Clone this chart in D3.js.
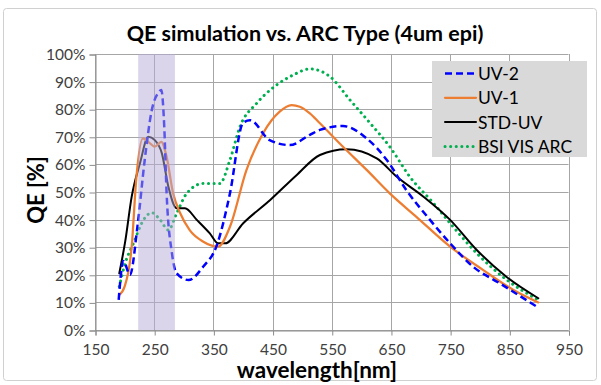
<!DOCTYPE html>
<html><head><meta charset="utf-8">
<script src="https://cdn.jsdelivr.net/npm/d3@7"></script>
<style>body{margin:0;background:#fff;}svg{display:block;}</style>
</head><body>
<svg id="chart" width="601" height="385"></svg>
<script>
const title = "QE simulation vs. ARC Type (4um epi)";
const xLabel = "wavelength[nm]";
const yLabel = "QE [%]";
const xTicks = [150, 250, 350, 450, 550, 650, 750, 850, 950];
const yTicks = [0, 10, 20, 30, 40, 50, 60, 70, 80, 90, 100];
const band = [223, 285];

const uv2W = [190, 198, 209, 222, 234, 246, 257, 262, 267, 271, 280, 288, 308, 333, 355, 378, 400, 412, 445, 479, 513, 530, 569, 609, 643, 676, 716, 750, 789, 834, 896];
const uv2V = [10.9, 25, 20, 38, 61.6, 79.7, 86, 87, 73.7, 49.5, 27.8, 20.5, 18.1, 23, 30.2, 49.5, 75, 76, 68.8, 67, 70.7, 72.5, 73.9, 69.4, 61.6, 50.7, 39.9, 31.4, 22.9, 16.9, 8.5];

const uv1W = [191, 200, 212, 220, 231, 243, 251, 262, 271, 282, 294, 310, 333, 358, 378, 406, 434, 462, 482, 496, 513, 530, 569, 609, 648, 693, 750, 806, 857, 899];
const uv1V = [12.7, 15.7, 30.2, 55.5, 69.4, 67.6, 66.4, 68.2, 62.8, 49.5, 42.3, 36.2, 32, 30.2, 37.4, 58, 71.3, 79.1, 81.5, 80.9, 78.5, 74.9, 66.4, 58, 49.5, 41, 30.2, 21.7, 14.5, 10];

const stdW = [191, 201, 212, 226, 240, 251, 263, 274, 288, 302, 322, 344, 358, 370, 400, 446, 490, 530, 575, 626, 660, 705, 750, 795, 845, 899];
const stdV = [20.5, 32, 48.3, 60.4, 70, 68.8, 64, 51.9, 44.1, 44.1, 39.9, 35, 31.4, 31.4, 38.6, 47.1, 56, 63.4, 65.5, 62.2, 55.5, 48.3, 39.9, 29, 19.3, 11.5];

const bsiW = [191, 201, 215, 232, 246, 260, 274, 288, 305, 333, 361, 378, 395, 423, 457, 485, 513, 547, 581, 615, 648, 682, 722, 755, 795, 846, 899];
const bsiV = [15.7, 24.2, 31.4, 39.9, 42.5, 39.9, 36.2, 42.3, 49.5, 53.1, 53.1, 61.6, 73.7, 82.1, 88.8, 92.4, 94.6, 91.8, 83.3, 74.9, 66.4, 55.5, 45.9, 37.4, 27.8, 18.1, 10.9];

const seriesNames = ["UV-2", "UV-1", "STD-UV", "BSI VIS ARC"];

const styles = {
  "UV-2": {color: "#0000ff", width: 2.5, dash: "7,4", cap: "butt"},
  "UV-1": {color: "#ed7d31", width: 2.25, dash: null, cap: "round"},
  "STD-UV": {color: "#000000", width: 2, dash: null, cap: "round"},
  "BSI VIS ARC": {color: "#00b050", width: 3, dash: "0.1,5.5", cap: "round"}
};
const seriesData = {
  "UV-2": uv2W.map((w, i) => [w, uv2V[i]]),
  "UV-1": uv1W.map((w, i) => [w, uv1V[i]]),
  "STD-UV": stdW.map((w, i) => [w, stdV[i]]),
  "BSI VIS ARC": bsiW.map((w, i) => [w, bsiV[i]])
};

const svg = d3.select("#chart");
const font = "Lato, 'Open Sans', sans-serif";

svg.append("rect").attr("x", 3.5).attr("y", 8.5).attr("width", 593).attr("height", 372)
  .attr("rx", 3).attr("fill", "#fff").attr("stroke", "#d0d0d0").attr("stroke-width", 1);

const x = d3.scaleLinear().domain([150, 950]).range([95, 568.5]);
const y = d3.scaleLinear().domain([0, 100]).range([330, 54]);

// gridlines
const grid = svg.append("g");
grid.selectAll(".hg").data(yTicks).join("line")
  .attr("x1", x(150)).attr("x2", x(950))
  .attr("y1", d => Math.round(y(d)) + 0.5).attr("y2", d => Math.round(y(d)) + 0.5)
  .attr("stroke", "#a6a6a6").attr("stroke-width", 1);
grid.selectAll(".vg").data(xTicks).join("line")
  .attr("y1", y(100)).attr("y2", y(0))
  .attr("x1", d => Math.round(x(d)) + 0.5).attr("x2", d => Math.round(x(d)) + 0.5)
  .attr("stroke", "#a6a6a6").attr("stroke-width", 1);

// axes
const xAxis = d3.axisBottom(x).tickValues(xTicks).tickSize(5).tickPadding(8).tickFormat(d3.format("d"));
const yAxis = d3.axisLeft(y).tickValues(yTicks).tickSize(6).tickPadding(4).tickFormat(d => d + "%");
const gx = svg.append("g").attr("transform", `translate(0.5,${Math.round(y(0)) + 0.5})`).call(xAxis);
const gy = svg.append("g").attr("transform", `translate(${Math.round(x(150)) + 0.5},0.5)`).call(yAxis);
[gx, gy].forEach(g => {
  g.select(".domain").attr("stroke", "#8c8c8c");
  g.selectAll(".tick line").attr("stroke", "#8c8c8c");
  g.selectAll("text").attr("font-family", font).attr("font-size", 15.5).attr("fill", "#404040");
});

// series
const line = d3.line().x(d => x(d[0])).y(d => y(d[1])).curve(d3.curveMonotoneX);
const drawOrder = ["BSI VIS ARC", "STD-UV", "UV-1", "UV-2"];
svg.append("g").selectAll("path").data(drawOrder).join("path")
  .attr("d", n => line(seriesData[n]))
  .attr("fill", "none")
  .attr("stroke", n => styles[n].color)
  .attr("stroke-width", n => styles[n].width)
  .attr("stroke-dasharray", n => styles[n].dash)
  .attr("stroke-linecap", n => styles[n].cap)
  .attr("stroke-linejoin", "round");

// shaded band
svg.append("rect").attr("x", x(band[0])).attr("width", x(band[1]) - x(band[0]))
  .attr("y", y(100)).attr("height", y(0) - y(100))
  .attr("fill", "#b6acd6").attr("opacity", 0.5);

// title
svg.append("text").attr("x", 305).attr("y", 41).attr("text-anchor", "middle")
  .attr("font-family", font).attr("font-weight", "bold").attr("font-size", 21.5)
  .attr("fill", "#000").text(title);

svg.append("text").attr("x", 317).attr("y", 378).attr("text-anchor", "middle")
  .attr("font-family", font).attr("font-weight", "bold").attr("font-size", 22.5)
  .attr("fill", "#000").text(xLabel);

svg.append("text").attr("transform", "translate(44,190) rotate(-90)").attr("text-anchor", "middle")
  .attr("font-family", font).attr("font-weight", "bold").attr("font-size", 22)
  .attr("fill", "#000").text(yLabel);

// legend
const lg = svg.append("g");
lg.append("rect").attr("x", 432).attr("y", 61).attr("width", 155).attr("height", 96).attr("fill", "#d9d9d9");
const rows = lg.selectAll("g.row").data(seriesNames).join("g")
  .attr("transform", (d, i) => `translate(0,${73.5 + i * 24.3})`);
rows.append("line").attr("x1", 445).attr("x2", 476).attr("y1", 0).attr("y2", 0)
  .attr("stroke", n => styles[n].color)
  .attr("stroke-width", n => styles[n].width)
  .attr("stroke-dasharray", n => styles[n].dash)
  .attr("stroke-linecap", n => styles[n].cap);
rows.append("text").attr("x", 478).attr("y", 6.5)
  .attr("font-family", font).attr("font-size", 17.5).attr("fill", "#000").text(d => d);
</script>
</body></html>
